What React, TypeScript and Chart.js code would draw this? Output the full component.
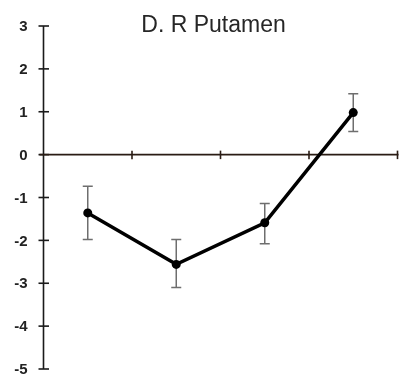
import React, { useEffect, useRef } from "react";
import { Chart, registerables } from "chart.js";

Chart.register(...registerables);

const title = "D. R Putamen";
const categories = ["1", "2", "3", "4"];
const means = [-1.36, -2.56, -1.59, 0.98];
const upper = [-0.74, -1.98, -1.14, 1.42];
const lower = [-1.98, -3.1, -2.08, 0.54];
const yTickValues = [3, 2, 1, 0, -1, -2, -3, -4, -5];
const yTickLabels = ["3", "2", "1", "0", "-1", "-2", "-3", "-4", "-5"];
const yMin = -5;
const yMax = 3;

const axesPlugin = {
  id: "customAxes",
  beforeDatasetsDraw(chart: any) {
    const { ctx, chartArea, scales } = chart;
    const x = scales.x;
    const y = scales.y;
    ctx.save();
    // y axis
    ctx.strokeStyle = "#1a1a1a";
    ctx.lineWidth = 1.6;
    ctx.beginPath();
    ctx.moveTo(chartArea.left, y.getPixelForValue(yMax));
    ctx.lineTo(chartArea.left, y.getPixelForValue(yMin));
    ctx.stroke();
    ctx.fillStyle = "#222";
    ctx.font = 'bold 15px "Liberation Sans", Arial, sans-serif';
    ctx.textAlign = "right";
    ctx.textBaseline = "middle";
    yTickValues.forEach((v, i) => {
      const py = y.getPixelForValue(v);
      ctx.beginPath();
      ctx.moveTo(chartArea.left - 5, py);
      ctx.lineTo(chartArea.left + 5.5, py);
      ctx.stroke();
      ctx.fillText(yTickLabels[i], 27.5, py + 1);
    });
    // x axis at y = 0
    const y0 = y.getPixelForValue(0);
    ctx.strokeStyle = "#2a1c14";
    ctx.beginPath();
    ctx.moveTo(chartArea.left - 4, y0);
    ctx.lineTo(chartArea.right + 1, y0);
    ctx.stroke();
    const n = categories.length;
    const step = (x.getPixelForValue(n - 1) - x.getPixelForValue(0)) / (n - 1);
    for (let i = 0; i < n; i++) {
      const px = x.getPixelForValue(i) + step / 2;
      ctx.beginPath();
      ctx.moveTo(px, y0 - 4);
      ctx.lineTo(px, y0 + 4.5);
      ctx.stroke();
    }
    // error bars
    ctx.strokeStyle = "#6e6e6e";
    ctx.lineWidth = 1.5;
    for (let i = 0; i < n; i++) {
      const px = x.getPixelForValue(i);
      const pt = y.getPixelForValue(upper[i]);
      const pb = y.getPixelForValue(lower[i]);
      ctx.beginPath();
      ctx.moveTo(px, pt);
      ctx.lineTo(px, pb);
      ctx.moveTo(px - 5, pt);
      ctx.lineTo(px + 5, pt);
      ctx.moveTo(px - 5, pb);
      ctx.lineTo(px + 5, pb);
      ctx.stroke();
    }
    // title
    ctx.fillStyle = "#262626";
    ctx.font = '23px "Liberation Sans", Arial, sans-serif';
    ctx.textAlign = "center";
    ctx.textBaseline = "alphabetic";
    ctx.fillText(title, 213.5, 32);
    ctx.restore();
  },
};

export default function App() {
  const ref = useRef<HTMLCanvasElement>(null);
  useEffect(() => {
    if (!ref.current) return;
    const zeroPad = (s: any) => {
      s.paddingTop = 0;
      s.paddingBottom = 0;
      s.paddingLeft = 0;
      s.paddingRight = 0;
    };
    const chart = new Chart(ref.current, {
      type: "line",
      data: {
        labels: categories,
        datasets: [
          {
            data: means,
            borderColor: "#000",
            backgroundColor: "#000",
            borderWidth: 3.5,
            pointRadius: 4.5,
            pointBackgroundColor: "#000",
            pointBorderWidth: 0,
            tension: 0,
          },
        ],
      },
      options: {
        animation: false,
        responsive: false,
        maintainAspectRatio: false,
        layout: { padding: { left: 0, right: 2, top: 26, bottom: 9 } },
        plugins: { legend: { display: false }, tooltip: { enabled: false }, title: { display: false } },
        scales: {
          x: { type: "category", offset: true, display: false, afterFit: zeroPad },
          y: {
            min: yMin,
            max: yMax,
            afterFit: (s: any) => {
              s.width = 43.5;
              zeroPad(s);
            },
            grid: { display: false, drawTicks: false },
            border: { display: false },
            ticks: { display: false, stepSize: 1 },
          },
        },
      },
      plugins: [axesPlugin],
    });
    return () => chart.destroy();
  }, []);
  return (
    <div style={{ position: "fixed", left: 0, top: 0, width: 402, height: 378, background: "#fff" }}>
      <canvas ref={ref} width={402} height={378} style={{ width: 402, height: 378 }} />
    </div>
  );
}
